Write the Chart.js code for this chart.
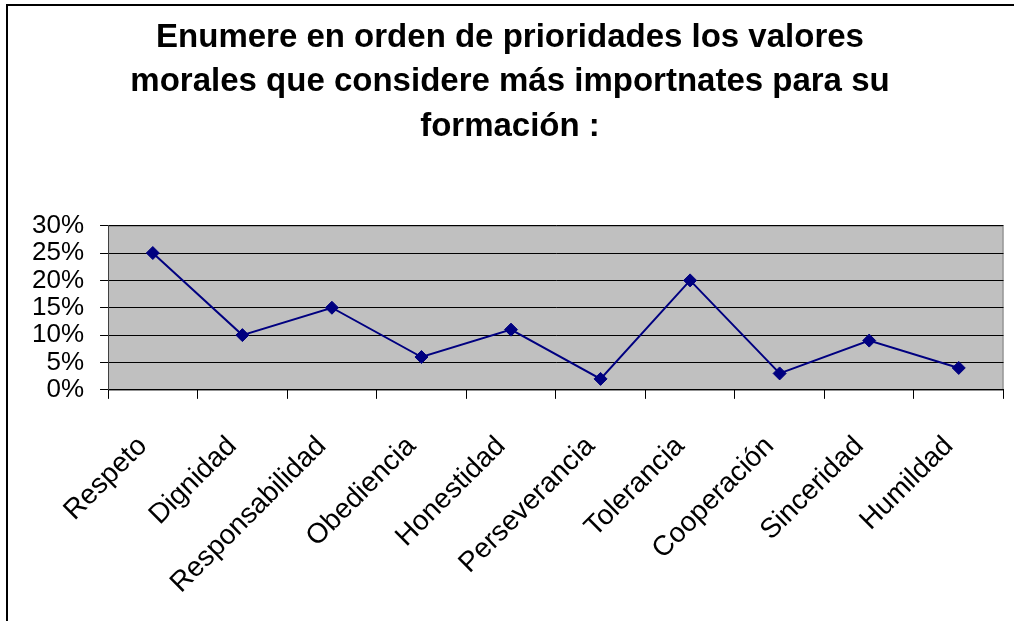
<!DOCTYPE html>
<html>
<head>
<meta charset="utf-8">
<script src="https://cdn.jsdelivr.net/npm/chart.js@4.4.1/dist/chart.umd.min.js"></script>
<style>
  html, body { margin: 0; padding: 0; background: #fff; overflow: hidden; }
  #wrap { position: relative; width: 1014px; height: 621px; overflow: hidden; }
</style>
</head>
<body>
<div id="wrap"><canvas id="chart" width="1014" height="631"></canvas></div>
<script>
/* global Chart */

var titleLines = [
    'Enumere en orden de prioridades los valores',
    'morales que considere más importnates para su',
    'formación :'
];
var categories = ['Respeto', 'Dignidad', 'Responsabilidad', 'Obediencia', 'Honestidad',
    'Perseverancia', 'Tolerancia', 'Cooperación', 'Sinceridad', 'Humildad'];
var percentages = [0.25, 0.10, 0.15, 0.06, 0.11, 0.02, 0.20, 0.03, 0.09, 0.04];
var yMin = 0;
var yMax = 0.30;
var yStep = 0.05;

// Gray plot background, plot border and the outer frame.
var framePlugin = {
    id: 'frame',
    beforeDraw: function (chart) {
        var ctx = chart.ctx, a = chart.chartArea;
        ctx.save();
        ctx.fillStyle = '#fff';
        ctx.fillRect(0, 0, chart.width, chart.height);
        ctx.fillStyle = '#c0c0c0';
        ctx.fillRect(a.left, a.top, a.right - a.left, a.bottom - a.top);
        ctx.strokeStyle = '#808080';
        ctx.lineWidth = 1;
        ctx.strokeRect(a.left + 0.5, a.top + 0.5, a.right - a.left - 1, a.bottom - a.top);
        ctx.strokeStyle = '#000';
        ctx.lineWidth = 2;
        ctx.strokeRect(7, 5, 1100, 700);
        ctx.restore();
    }
};

new Chart(document.getElementById('chart'), {
    type: 'line',
    data: {
        labels: categories,
        datasets: [{
            data: percentages,
            borderColor: '#000080',
            backgroundColor: '#000080',
            borderWidth: 2,
            pointStyle: 'rectRot',
            pointRadius: 6.5,
            pointBorderWidth: 1,
            tension: 0
        }]
    },
    options: {
        responsive: false,
        animation: false,
        layout: { padding: { left: 16, right: 10, top: 0, bottom: 0 } },
        plugins: {
            legend: { display: false },
            tooltip: { enabled: false },
            title: {
                display: true,
                text: titleLines,
                color: '#000',
                font: { family: 'Liberation Sans, Arial', size: 33, weight: 'bold', lineHeight: 1.36 },
                padding: { top: 15, bottom: 76 }
            }
        },
        scales: {
            x: {
                offset: true,
                border: { color: '#000', width: 1 },
                grid: { offset: true, drawOnChartArea: false, drawTicks: true, tickLength: 9, color: '#000' },
                ticks: {
                    autoSkip: false,
                    maxRotation: 45,
                    minRotation: 45,
                    padding: 31,
                    labelOffset: -10,
                    color: '#000',
                    font: { family: 'Liberation Sans, Arial', size: 28 }
                }
            },
            y: {
                min: yMin,
                max: yMax,
                border: { color: '#404040', width: 1 },
                grid: { color: '#000', lineWidth: 1, drawTicks: true, tickLength: 8 },
                ticks: {
                    stepSize: yStep,
                    autoSkip: false,
                    padding: 16,
                    color: '#000',
                    font: { family: 'Liberation Sans, Arial', size: 26, lineHeight: 1 },
                    callback: function (v) { return Math.round(v * 100) + '%'; }
                }
            }
        }
    },
    plugins: [framePlugin]
});
</script>
</body>
</html>
